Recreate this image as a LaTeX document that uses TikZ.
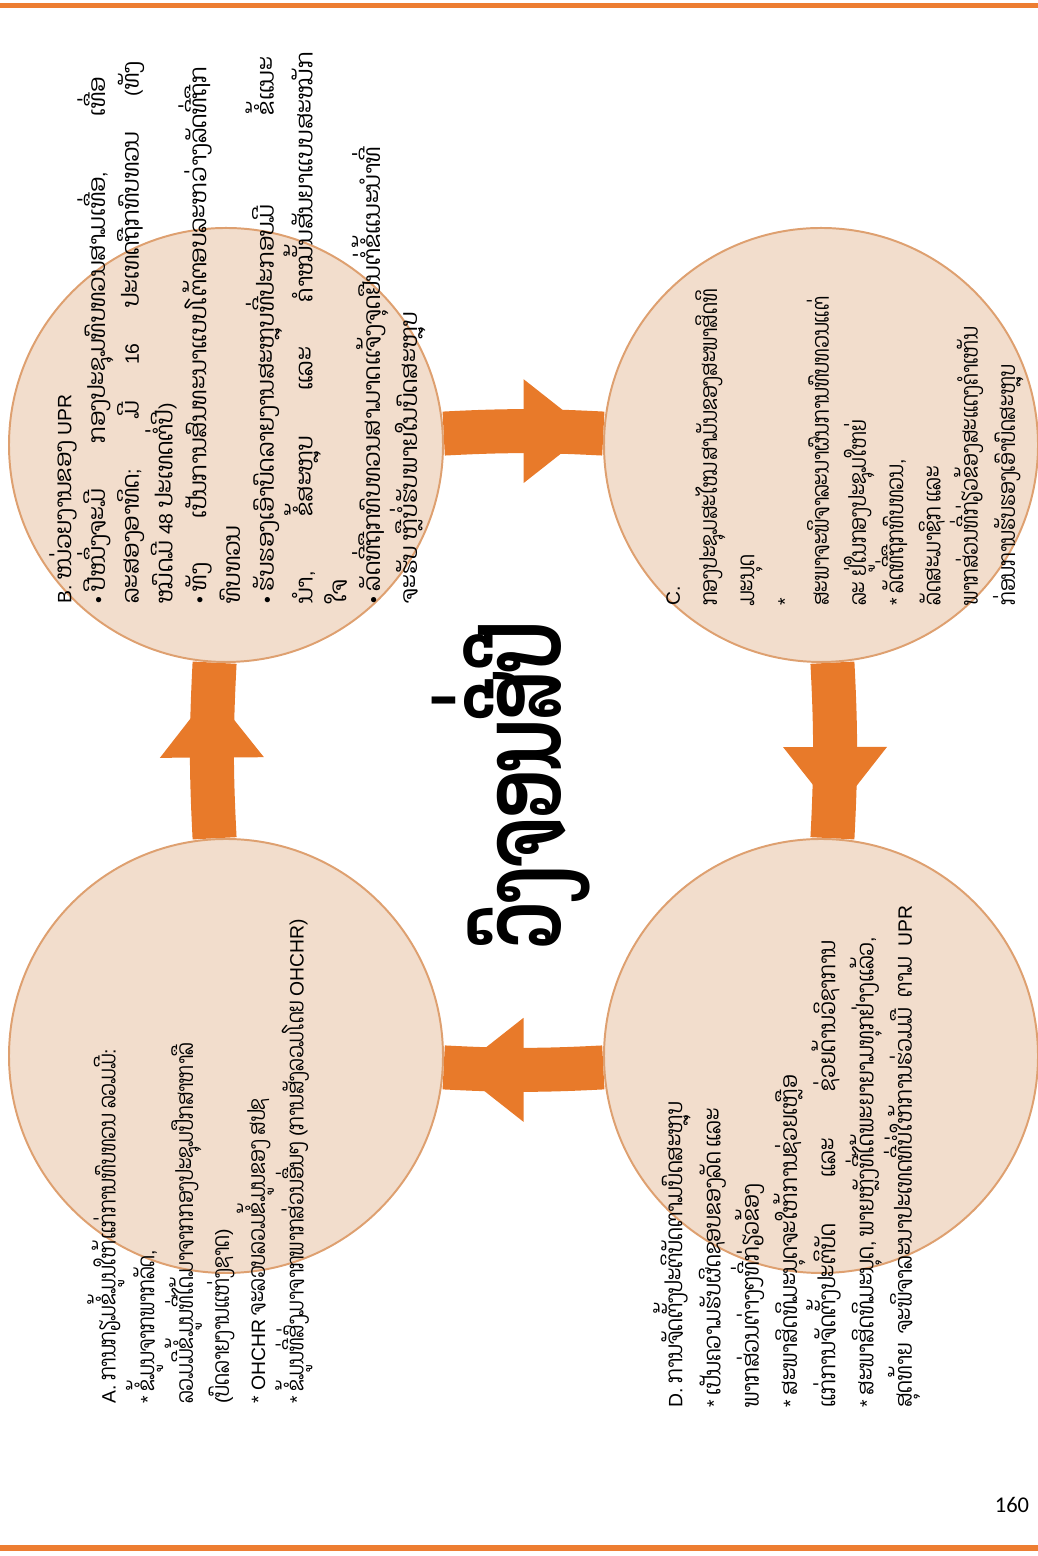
\documentclass[tikz,border=0pt]{standalone}
\usepackage{fontspec}
\usepackage{tikz}
\usetikzlibrary{positioning,decorations.markings}
\newfontfamily\laofont[Script=Lao, Scale=1.35, FakeStretch=0.78]{Dhyana}
\newfontfamily\laofontB[Script=Lao, Scale=1.35, FakeStretch=0.94]{Dhyana}
\newfontfamily\laofontD[Script=Lao, Scale=1.35, FakeStretch=0.84]{Dhyana}
\newfontfamily\laotitle[Script=Lao, FakeStretch=0.63]{Dhyana}
\newfontfamily\latfont[Scale=1.1]{Liberation Sans}
\newfontfamily\pagefont{Carlito}
\newcommand{\lat}[1]{{\latfont #1}}
\newcommand{\jline}[2]{\makebox[#1][s]{#2}}
\newcommand{\bul}{\lat{•}\hspace{4pt}}
\definecolor{cycleorange}{RGB}{232,122,42}
\definecolor{ruleorange}{RGB}{237,125,49}
\definecolor{bubblefill}{RGB}{242,221,204}
\definecolor{bubbleedge}{RGB}{222,160,112}
\pgfdeclarelayer{background}
\pgfsetlayers{background,main}
\tikzset{%
	bubble/.style    = {draw=bubbleedge, fill=bubblefill, circle, line width=1.4pt, minimum size=108.5mm, inner sep=0pt}, % stage
	cycletext/.style = {rotate=90, anchor=north west, inner sep=0pt, align=left},
	stem/.style      = {draw=cycleorange, line width=11mm, postaction={decorate},
		decoration={markings, mark=at position #1 with {\fill[cycleorange] (0,-13mm) -- (16.5mm,0) -- (0,13mm) -- cycle;}}},
	stem/.default    = 0.48,
	cycletitle/.style = {rotate=90, font=\laotitle\bfseries\fontsize{80}{96}\selectfont},
	pagerule/.style  = {draw=ruleorange, line width=1.4mm},
}

\begin{document}
\begin{tikzpicture}[x=0.25mm,y=0.25mm]
	\useasboundingbox (0,0) rectangle (1038,1556);
	\draw[pagerule] (0,1550.5) -- (1038,1550.5);
	\draw[pagerule] (0,8) -- (1038,8);
	% stages
	\node[bubble] (cA) at (226,500) {};
	\node[bubble] (cB) at (226,1111) {};
	\node[bubble] (cC) at (821,1111) {};
	\node[bubble] (cD) at (821,500) {};
	\begin{pgfonlayer}{background}
		\draw[stem=0.46] (cA) to[bend left=3] (cB);
		\draw[stem=0.5] (cB) to[bend left=3] (cC);
		\draw[stem] (cC) to[bend left=3] (cD);
		\draw[stem=0.5] (cD) to[bend left=3] (cA);
	\end{pgfonlayer}
	\node[cycletitle] (ttl) at (511,770) {ວົງຈອນສີ່ປີ};
	\node[cycletext, font=\laofont\fontsize{12.5}{25.6}\selectfont] (tA) at (87,152) {%
		\lat{A.} ການກຽມຂໍ້ມູນໃຫ້ແກ່ການທົບທວນ ລວມມີ\lat{:}\\
		\lat{*} ຂໍ້ມູນຈາກພາກລັດ\lat{,}\\
		ລວມມີຂໍ້ມູນທີ່ໄດ້ມາຈາກກອງປະຊຸມປຶກສາຫາລື\\
		\lat{(}ບົດລາຍງານແຫ່ງຊາດ\lat{)}\\
		\lat{* OHCHR} ຈະລວບລວມຂໍ້ມູນຂອງ ສປຊ\\
		\lat{*} ຂໍ້ມູນທີ່ສົ່ງມາຈາກພາກສ່ວນອື່ນໆ \lat{(}ການສັງລວມໂດຍ \lat{OHCHR)}};
	\node[cycletext, font=\laofontB\fontsize{12.5}{24}\selectfont] (tB) at (49,952) {%
		\lat{B.} ໜ່ວຍງານຂອງ \lat{UPR}\\
		\jline{131.75mm}{\bul ປີໜຶ່ງຈະມີ ກອງປະຊຸມທົບທວນສາມເທື່ອ\lat{,} ເທື່ອ}\\
		\jline{135.5mm}{ລະສອງອາທິດ\lat{;} ມີ \lat{16} ປະເທດຖືກທົບທວນ \lat{(}ທັງ}\\
		ໝົດມີ \lat{48} ປະເທດຕໍ່ປີ\lat{)}\\
		\jline{134.25mm}{\bul ທັງ ເປັນການສົນທະນາແບບໂຕ້ຕອບລະຫວ່າງລັດທີ່ຖືກ}\\
		ທົບທວນ\\
		\jline{136.75mm}{\bul ຮັບຮອງເອົາບົດລາຍງານສະຫຼຸບທີ່ປະກອບມີ ຂໍ້ແນະ}\\
		\jline{138mm}{ນຳ\lat{,} ຂໍ້ສະຫຼຸບ ແລະ ຄຳໝັ້ນສັນຍາແບບສະໝັກ}\\
		ໃຈ\\
		\jline{130.5mm}{\bul ລັດທີ່ຖືກທົບທວນສາມາດແຈ້ງຈຸດຢືນຕໍ່ຂໍ້ແນະນຳທີ່}\\
		ຈະຮັບ ຫຼືບໍ່ຮັບພາຍໃນບົດສະຫຼຸບ};
	\node[cycletext, font=\laofont\fontsize{12.5}{26.5}\selectfont] (tC) at (666,950) {%
		\lat{C.}\\
		ກອງປະຊຸມສະໄໝສາມັນຂອງສະພາສິດທິ\\
		ມະນຸດ\\
		\lat{*}\\
		ສະພາຈະພິຈາລະນາຜົນການທົບທວນແຕ່\\
		ລະ ຢູ່ໃນກອງປະຊຸມໃຫຍ່\\
		\lat{*} ລັດທີ່ຖືກທົບທວນ\lat{,}\\
		ລັດສະມາຊິກ ແລະ\\
		ພາກສ່ວນທີ່ກ່ຽວຂ້ອງສະແດງຄຳເຫັນ\\
		ກ່ອນການຮັບຮອງເອົາບົດສະຫຼຸບ};
	\node[cycletext, font=\laofontD\fontsize{12.5}{27.2}\selectfont] (tD) at (653,148) {%
		\lat{D.} ການຈັດຕັ້ງປະຕິບັດຕາມບົດສະຫຼຸບ\\
		\lat{*} ເປັນຄວາມຮັບຜິດຊອບຂອງລັດ ແລະ\\
		ພາກສ່ວນຕ່າງໆທີ່ກ່ຽວຂ້ອງ\\
		\lat{*} ສະພາສິດທິມະນຸດຈະໃຫ້ການຊ່ວຍເຫຼືອ\\
		\jline{116.75mm}{ແກ່ການຈັດຕັ້ງປະຕິບັດ ແລະ ຊ່ວຍດ້ານວິຊາການ}\\
		\lat{*} ສະພາສິດທິມະນຸດ\lat{,} ພາຍຫຼັງທີ່ໄດ້ພະຍາຍາມທຸກຢ່າງແລ້ວ\lat{,}\\
		\jline{125.5mm}{ສຸດທ້າຍ ຈະພິຈາລະນາປະເທດທີ່ບໍ່ໃຫ້ການຮ່ວມມື ຕາມ \lat{UPR}}};
	\node[font=\pagefont\fontsize{16}{19}\selectfont] (pgno) at (1012,51) {160};
\end{tikzpicture}
\end{document}
